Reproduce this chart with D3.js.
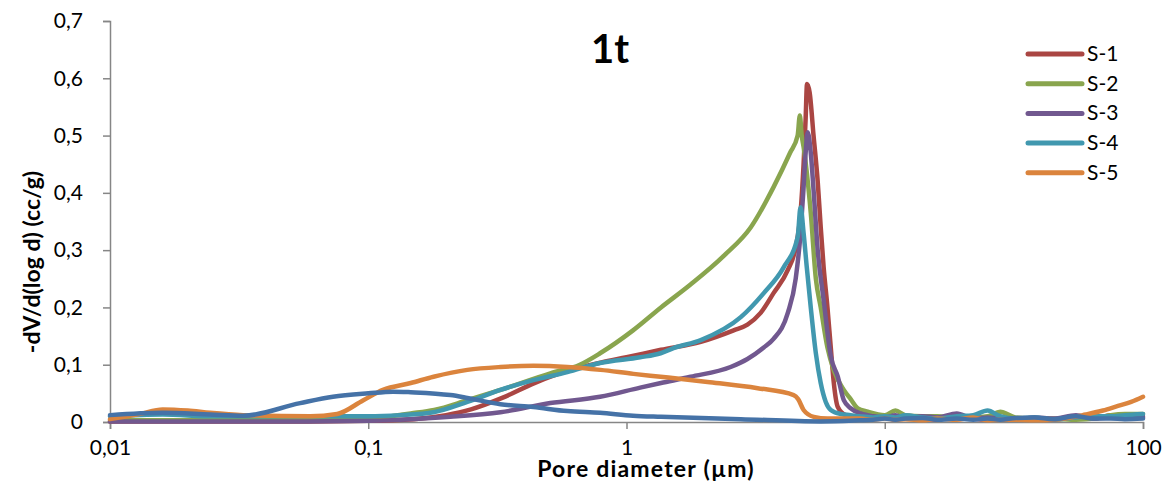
<!DOCTYPE html>
<html>
<head>
<meta charset="utf-8">
<script src="https://cdn.jsdelivr.net/npm/d3@7"></script>
<style>
  body { margin: 0; background: #fff; }
  svg { display: block; font-family: Lato, "Open Sans", sans-serif; }
</style>
</head>
<body>
<script>
// chart data: [pore diameter (µm), -dV/d(log d) (cc/g)]
var seriesNames = ["S-1", "S-2", "S-3", "S-4", "S-5"];
var xTicks = [0.01, 0.1, 1, 10, 100];
var xTickLabels = ["0,01", "0,1", "1", "10", "100"];
var yTicks = [0, 0.1, 0.2, 0.3, 0.4, 0.5, 0.6, 0.7];
var yTickLabels = ["0", "0,1", "0,2", "0,3", "0,4", "0,5", "0,6", "0,7"];

var s1 = [[0.01,0.001],[0.05,0.001],[0.1,0.002],[0.15,0.005],[0.2,0.012],[0.25,0.022],[0.33,0.042],
  [0.44,0.068],[0.6,0.09],[0.8,0.104],[1,0.113],[1.36,0.126],[1.94,0.14],[2.6,0.16],[2.94,0.17],
  [3.3,0.19],[3.71,0.225],[4.21,0.265],[4.52,0.305],[4.72,0.365],[4.85,0.45],[4.94,0.53],[5.0,0.59],
  [5.12,0.575],[5.3,0.5],[5.5,0.42],[5.65,0.34],[5.8,0.27],[6.0,0.2],[6.18,0.13],[6.35,0.068],
  [6.58,0.026],[7.06,0.012],[8,0.008],[9,0.006],[10,0.008],[11,0.004],[12,0.01],[14,0.006],[16,0.004],
  [19,0.012],[22,0.006],[25,0.004],[28,0.008],[32,0.005],[38,0.006],[45,0.004],[55,0.01],[65,0.006],
  [75,0.012],[85,0.01],[100,0.008]];

var s2 = [[0.01,0.003],[0.03,0.003],[0.07,0.004],[0.1,0.006],[0.146,0.015],[0.18,0.021],[0.242,0.038],
  [0.325,0.056],[0.507,0.085],[0.66,0.1],[0.79,0.12],[1.06,0.16],[1.36,0.2],[1.77,0.24],[2.38,0.29],
  [3.03,0.34],[3.71,0.41],[4.3,0.47],[4.6,0.5],[4.69,0.535],[4.77,0.5],[4.85,0.48],[5.17,0.365],
  [5.41,0.25],[5.65,0.2],[6.0,0.13],[6.35,0.09],[6.94,0.056],[7.38,0.04],[7.86,0.024],[8.6,0.018],
  [10,0.012],[11,0.02],[12,0.012],[14,0.01],[16,0.01],[19,0.006],[22,0.008],[25,0.01],[28,0.018],
  [32,0.008],[38,0.006],[45,0.006],[55,0.004],[65,0.006],[75,0.012],[85,0.014],[100,0.014]];

var s3 = [[0.01,0.001],[0.05,0.001],[0.1,0.002],[0.133,0.004],[0.208,0.009],[0.325,0.017],[0.507,0.033],
  [0.79,0.044],[1.13,0.06],[1.36,0.068],[1.77,0.079],[2.53,0.096],[2.94,0.11],[3.4,0.13],[3.71,0.145],
  [4.21,0.19],[4.52,0.25],[4.72,0.33],[4.85,0.41],[4.94,0.47],[5.03,0.506],[5.17,0.47],[5.31,0.4],
  [5.5,0.3],[5.8,0.213],[6.18,0.115],[6.58,0.079],[6.94,0.038],[7.38,0.024],[8.07,0.015],[9,0.01],
  [10,0.008],[11,0.012],[12,0.006],[14,0.01],[16,0.008],[19,0.015],[22,0.006],[25,0.008],[28,0.006],
  [32,0.004],[38,0.008],[45,0.006],[55,0.012],[65,0.006],[75,0.008],[85,0.01],[100,0.01]];

var s4 = [[0.01,0.01],[0.016,0.013],[0.025,0.01],[0.05,0.01],[0.1,0.01],[0.133,0.012],[0.179,0.017],
  [0.242,0.035],[0.325,0.056],[0.436,0.073],[0.59,0.087],[0.79,0.103],[1.13,0.113],[1.355,0.12],
  [1.52,0.129],[1.94,0.143],[2.77,0.183],[3.4,0.225],[4.06,0.27],[4.6,0.323],[4.72,0.375],[4.85,0.33],
  [4.99,0.27],[5.17,0.2],[5.41,0.12],[5.65,0.068],[5.91,0.035],[6.18,0.021],[6.75,0.014],[7.38,0.012],
  [8,0.01],[9,0.008],[10,0.01],[11,0.008],[12,0.012],[14,0.008],[16,0.006],[19,0.01],[22,0.012],
  [25,0.02],[28,0.01],[32,0.006],[38,0.008],[45,0.004],[55,0.008],[65,0.01],[75,0.01],[85,0.012],[100,0.014]];

var s5 = [[0.01,0.005],[0.013,0.014],[0.016,0.022],[0.02,0.02],[0.0244,0.016],[0.0328,0.012],
  [0.0596,0.01],[0.0758,0.014],[0.0957,0.038],[0.114,0.056],[0.146,0.068],[0.179,0.079],[0.242,0.091],
  [0.325,0.096],[0.436,0.098],[0.59,0.096],[0.793,0.091],[1.064,0.084],[1.355,0.079],[2.06,0.07],
  [3.22,0.059],[4.44,0.047],[4.62,0.04],[4.85,0.021],[5.31,0.009],[6,0.006],[7,0.006],[8,0.006],
  [9,0.004],[10,0.006],[11,0.004],[12,0.005],[14,0.003],[16,0.006],[19,0.004],[22,0.008],[25,0.003],
  [28,0.004],[32,0.004],[38,0.003],[45,0.004],[50,0.006],[60,0.013],[70,0.02],[80,0.028],[90,0.035],[100,0.044]];

// sixth curve, no legend entry
var s6 = [[0.01,0.012],[0.016,0.016],[0.0244,0.013],[0.0328,0.011],[0.0545,0.033],[0.073,0.044],
  [0.1,0.05],[0.125,0.053],[0.146,0.052],[0.208,0.047],[0.242,0.042],[0.325,0.031],[0.436,0.026],
  [0.59,0.019],[0.79,0.016],[1.06,0.011],[1.36,0.009],[2.77,0.005],[5.65,0.001],[8,0.003],[9,0.004],
  [10,0.006],[11,0.004],[12,0.006],[14,0.007],[16,0.004],[19,0.006],[22,0.004],[25,0.006],[28,0.004],
  [32,0.007],[38,0.008],[45,0.005],[55,0.01],[65,0.006],[75,0.006],[85,0.005],[100,0.006]];

var colors = ["#AA4643", "#89A54E", "#71588F", "#4198AF", "#DB843D", "#4572A7"];

var svg_w = 1170, svg_h = 484;
var svg = d3.select("body").append("svg")
  .attr("width", svg_w)
  .attr("height", svg_h);

var x = d3.scaleLog().domain([0.01, 100]).range([110, 1143]);
var y = d3.scaleLinear().domain([0, 0.7]).range([422, 21]);

// axes
var yAxis = svg.append("g")
  .attr("transform", "translate(110,0)")
  .call(d3.axisLeft(y).tickValues(yTicks).tickSize(7).tickPadding(20)
    .tickFormat(function(d, i) { return yTickLabels[i]; }));

var xAxis = svg.append("g")
  .attr("transform", "translate(0,422)")
  .call(d3.axisBottom(x).tickValues(xTicks).tickSize(7).tickPadding(11)
    .tickFormat(function(d, i) { return xTickLabels[i]; }));

svg.selectAll(".domain").attr("stroke", "#868686").attr("stroke-width", 1.5);
svg.selectAll(".tick line").attr("stroke", "#868686").attr("stroke-width", 1.5);
svg.selectAll(".tick text").attr("font-size", 21).attr("fill", "#000")
  .attr("font-family", "Lato, sans-serif");

// lines
var line = d3.line()
  .x(function(d) { return x(d[0]); })
  .y(function(d) { return y(d[1]); })
  .curve(d3.curveMonotoneX);

var allSeries = [s1, s2, s3, s4, s5, s6];
svg.append("g").selectAll("path")
  .data(allSeries)
  .enter()
  .append("path")
  .attr("d", line)
  .attr("fill", "none")
  .attr("stroke", function(d, i) { return colors[i]; })
  .attr("stroke-width", 4.5)
  .attr("stroke-linejoin", "round")
  .attr("stroke-linecap", "round");

// title
svg.append("text")
  .attr("x", 610).attr("y", 63)
  .attr("text-anchor", "middle")
  .attr("font-size", 40).attr("font-weight", "bold")
  .text("1t");

// axis titles
svg.append("text")
  .attr("x", 646).attr("y", 477)
  .attr("text-anchor", "middle")
  .attr("font-size", 23).attr("font-weight", "bold")
  .attr("letter-spacing", 1.2)
  .text("Pore diameter (µm)");

svg.append("text")
  .attr("transform", "translate(40,262) rotate(-90)")
  .attr("text-anchor", "middle")
  .attr("font-size", 23).attr("font-weight", "bold")
  .text("-dV/d(log d) (cc/g)");

// legend
var legend = svg.append("g").selectAll("g")
  .data(seriesNames)
  .enter()
  .append("g")
  .attr("transform", function(d, i) { return "translate(1028," + (54 + i * 29.7) + ")"; });

legend.append("line")
  .attr("x1", 0).attr("x2", 54)
  .attr("stroke", function(d, i) { return colors[i]; })
  .attr("stroke-width", 5)
  .attr("stroke-linecap", "round");

legend.append("text")
  .attr("x", 59).attr("y", 7)
  .attr("font-size", 21)
  .text(function(d) { return d; });
</script>
</body>
</html>
